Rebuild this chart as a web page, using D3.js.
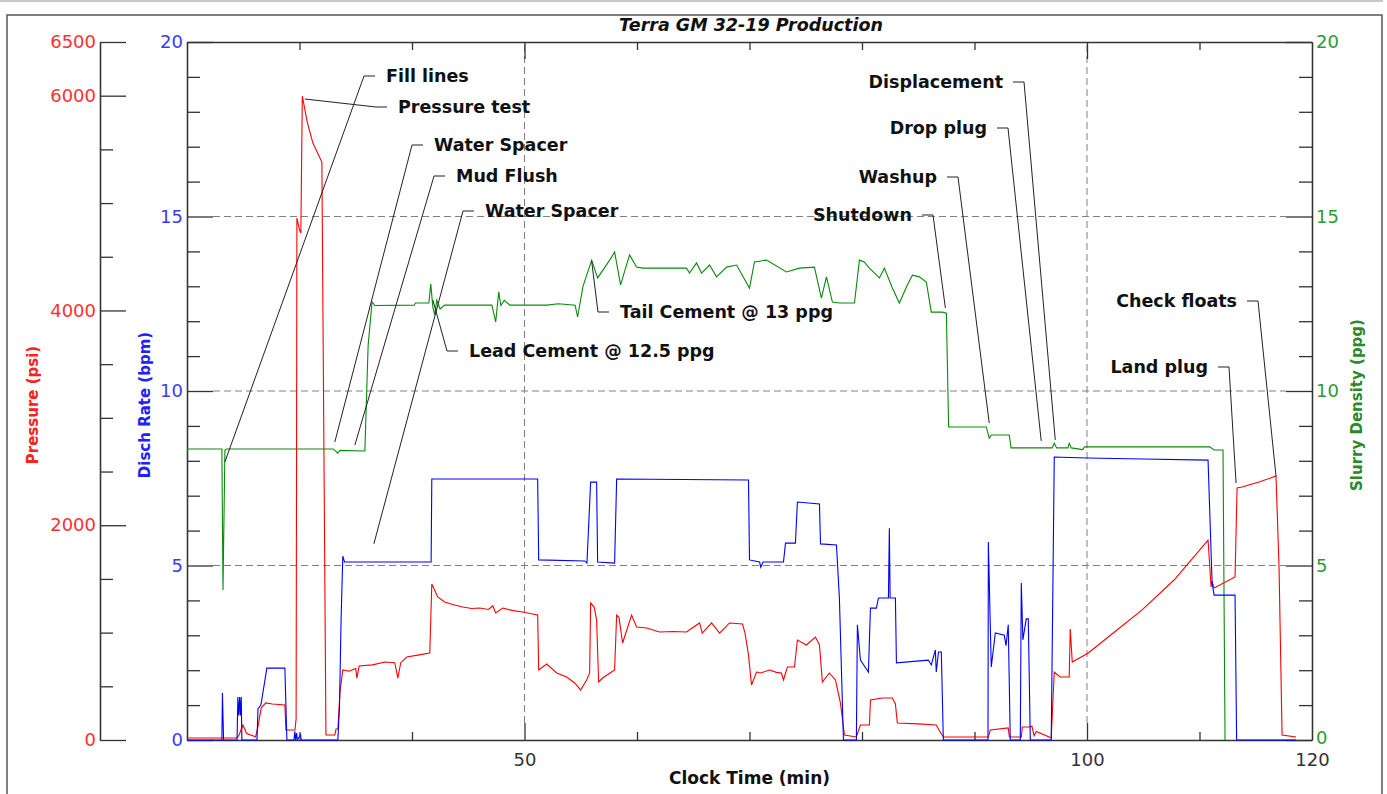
<!DOCTYPE html>
<html><head><meta charset="utf-8">
<script src="https://cdn.jsdelivr.net/npm/d3@7"></script>
<style>body{margin:0;background:#fff}svg{display:block}</style>
</head><body><svg id="c" width="1387" height="794"></svg>
<script>
// ---------- DATA ----------
const chartTitle = "Terra GM 32-19 Production";
const xTitle = "Clock Time (min)";
const pressureTitle = "Pressure (psi)";
const rateTitle = "Disch Rate (bpm)";
const densityTitle = "Slurry Density (ppg)";

const timeMinorTicks = [30, 40, 60, 70, 80, 90, 110];
const timeMajorTicks = [50, 100];
const timeLabels = [50, 100, 120];
const pressureMajorTicks = [0, 2000, 4000, 6000, 6500];
const pressureMinorTicks = [500, 1000, 1500, 2500, 3000, 3500, 4500, 5000, 5500];
const rateMajorTicks = [0, 5, 10, 15, 20];
const rateMinorTicks = [1, 2, 3, 4, 6, 7, 8, 9, 11, 12, 13, 14, 16, 17, 18, 19];
const densityMajorTicks = [0, 5, 10, 15, 20];
const densityMinorTicks = [1, 2, 3, 4, 6, 7, 8, 9, 11, 12, 13, 14, 16, 17, 18, 19];
const gridValues = [5, 10, 15];

// [time (min), pressure (psi)]
const pressureData = [
[20.0,19],[24.4,19],[24.6,40],[24.97,140],[25.3,60],[26.1,30],[26.3,120],[26.6,300],[27.0,345],[27.6,335],[28.7,326],[28.79,93],[29.6,93],[29.7,200],[29.77,4861],[30.0,4750],[30.12,4721],[30.25,5997],[30.7,5750],[31.19,5559],[31.99,5382],[32.15,3000],[32.35,47],[33.14,47],[33.25,102],[33.41,102],[33.6,450],[33.85,652],[34.4,640],[35.0,665],[35.1,577],[35.3,690],[36.5,700],[37.6,726],[38.47,720],[38.74,577],[39.0,720],[39.54,773],[40.5,790],[41.58,810],[41.76,1453],[42.29,1332],[42.9,1285],[43.7,1260],[44.51,1238],[45.3,1225],[46.02,1229],[46.8,1215],[47.18,1250],[47.44,1183],[48.06,1229],[49.0,1205],[49.84,1192],[50.6,1175],[51.17,1164],[51.26,652],[51.97,708],[52.86,624],[53.75,587],[54.46,531],[54.99,466],[55.52,559],[55.79,624],[55.88,1276],[56.2,1238],[56.41,1117],[56.59,540],[56.94,577],[57.74,633],[58.01,652],[58.19,1164],[58.4,1140],[58.72,903],[59.52,1164],[59.96,1052],[60.85,1043],[62.01,1006],[63.2,1010],[64.4,1006],[65.56,1090],[65.8,996],[66.63,1090],[67.34,996],[68.22,1090],[68.8,1085],[69.38,1080],[69.6,996],[69.9,800],[70.18,512],[70.62,633],[70.98,624],[71.78,652],[72.4,630],[72.84,624],[73.02,559],[73.37,680],[74.0,680],[74.26,931],[75.06,885],[75.86,959],[76.22,885],[76.48,540],[77.10,624],[77.64,559],[78.08,345],[78.44,47],[79.5,28],[79.86,140],[80.66,140],[80.75,372],[81.8,391],[82.7,391],[82.97,335],[83.14,158],[85.0,150],[86.61,140],[86.8,100],[87.23,28],[91.23,28],[91.4,93],[93.0,112],[93.1,28],[94.16,28],[94.25,121],[94.96,121],[95.1,130],[95.3,40],[95.5,80],[96.64,28],[96.82,19],[97.09,633],[97.62,587],[98.42,587],[98.51,1034],[98.69,726],[100.11,810],[102.33,996],[104.90,1211],[107.74,1490],[110.76,1862],[111.03,1425],[111.1,1480],[111.3,1415],[113.16,1518],[113.34,2347],[113.78,2356],[115.29,2402],[116.8,2458],[117.07,1611],[117.34,47],[118.58,28]
];

// [time (min), discharge rate (bpm)]
const rateData = [
[20,0],[23.1,0],[23.15,1.35],[23.25,0],[24.45,0],[24.52,1.23],[24.6,0.7],[24.68,1.23],[24.75,0.7],[24.82,1.23],[24.88,0],[26.22,0],[26.31,0.9],[26.57,1.0],[27.1,2.06],[28.7,2.06],[28.88,0],[29.5,0],[29.59,0.25],[29.65,0],[29.75,0.2],[29.8,0],[30.1,0.15],[30.15,0],[33.41,0],[33.55,0.9],[33.7,3.5],[33.85,5.27],[34.0,5.1],[41.7,5.1],[41.76,7.48],[51.17,7.48],[51.26,5.16],[55.35,5.13],[55.55,5.07],[55.88,7.39],[56.41,7.39],[56.5,5.1],[58.01,5.07],[58.19,7.48],[69.91,7.45],[70.0,5.16],[70.9,5.1],[71.0,4.95],[71.2,5.1],[73.02,5.1],[73.2,5.64],[74.08,5.64],[74.26,6.82],[76.22,6.76],[76.31,5.62],[77.73,5.59],[77.99,4.07],[78.35,0],[79.5,0],[79.59,3.3],[79.86,2.29],[80.57,1.95],[80.75,3.78],[81.28,3.78],[81.46,4.07],[82.35,4.07],[82.43,6.07],[82.5,4.07],[82.97,4.07],[83.06,2.21],[85.9,2.29],[86.16,2.15],[86.52,2.58],[86.6,1.95],[86.8,2.52],[87.05,2.52],[87.23,0],[91.2,0],[91.23,5.67],[91.49,2.09],[91.85,3.07],[92.65,3.0],[92.8,2.7],[93.0,3.3],[93.18,0],[94.07,0],[94.16,4.5],[94.3,2.87],[94.6,3.47],[94.78,3.47],[94.96,0],[96.82,0],[97.09,8.11],[100,8.08],[105,8.05],[110.76,8.02],[111.12,4.5],[111.3,4.15],[113.16,4.15],[113.3,0],[118.58,0]
];

// [time (min), slurry density (ppg)]
const densityData = [
[20,8.34],[23.1,8.34],[23.2,4.3],[23.37,8.3],[23.5,8.34],[33.0,8.34],[33.4,8.22],[33.6,8.3],[35.81,8.28],[36.1,11.3],[36.45,12.55],[36.7,12.45],[40.2,12.46],[40.3,12.52],[41.5,12.52],[41.67,13.07],[41.85,12.4],[42.02,12.18],[42.2,12.6],[42.5,12.35],[42.9,12.46],[47.1,12.46],[47.44,11.98],[47.71,12.84],[47.9,12.45],[48.2,12.6],[48.7,12.46],[52.0,12.46],[53.0,12.5],[54.5,12.46],[54.72,12.12],[55.2,13.0],[55.97,13.75],[56.5,13.24],[57.57,13.75],[58.01,13.98],[58.54,13.04],[59.34,13.9],[59.96,13.55],[60.5,13.52],[64.4,13.52],[64.67,13.38],[65.29,13.67],[65.74,13.38],[66.45,13.61],[67.07,13.27],[67.96,13.55],[68.85,13.61],[70.0,12.95],[70.44,13.7],[71.51,13.75],[73.29,13.41],[74.44,13.52],[75.77,13.55],[76.39,12.66],[76.84,13.27],[77.37,12.55],[77.99,12.52],[79.33,12.52],[79.77,13.75],[80.2,13.7],[80.66,13.52],[81.55,13.24],[81.99,13.52],[82.70,12.95],[83.32,12.52],[84.03,13.04],[84.48,13.32],[85.10,13.27],[85.72,13.12],[86.16,12.26],[87.14,12.26],[87.5,12.23],[87.7,8.97],[91.05,8.97],[91.31,8.65],[91.5,8.74],[93.09,8.74],[93.25,8.37],[96.9,8.37],[97.09,8.5],[97.3,8.37],[98.3,8.37],[98.42,8.5],[98.6,8.37],[99.6,8.32],[99.8,8.4],[110.9,8.4],[111.3,8.31],[112.09,8.31],[112.27,0]
];

const annotationText = ["Fill lines","Pressure test","Water Spacer","Mud Flush","Water Spacer","Lead Cement @ 12.5 ppg","Tail Cement @ 13 ppg","Displacement","Drop plug","Washup","Shutdown","Check floats","Land plug"];
const annotationTime = [23.37, 30.48, 33.14, 34.92, 36.61, 41.85, 55.97, 97.18, 95.93, 91.31, 87.41, 116.80, 113.25];
const annotationValue = [7.97, 5969, 8.54, 8.45, 5.62, 12.61, 13.72, 8.60, 8.57, 9.08, 12.38, 7.56, 7.36];
const annotationAxis = ["density","pressure","density","density","rate","density","density","density","density","density","density","density","density"];

// ---------- LAYOUT (positions only) ----------
const annotationLayout = [
  {x:386,y:76,side:"right"},{x:398,y:107,side:"right"},{x:434,y:145,side:"right"},
  {x:456,y:176,side:"right"},{x:485,y:211,side:"right"},{x:469,y:351,side:"right"},
  {x:620,y:312,side:"right"},{x:1003,y:82,side:"left"},{x:987,y:128,side:"left"},
  {x:937,y:177,side:"left"},{x:912,y:215,side:"left"},{x:1237,y:301,side:"left"},
  {x:1208,y:367,side:"left"}
];

const W = 1387, H = 794;
const L = 187, R = 1312, T = 42, B = 740;
const FONT = "'DejaVu Sans', 'Liberation Sans', Arial, sans-serif";
const svg = d3.select("#c");

const x = d3.scaleLinear().domain([20, 120]).range([L, R]);
const yRate = d3.scaleLinear().domain([0, 20]).range([B, T]);
const yDen = d3.scaleLinear().domain([0, 20]).range([B, T]);
const yP = d3.scaleLinear().domain([0, 6500]).range([B, T]);

// frame
svg.append("rect").attr("width", W).attr("height", H).attr("fill", "#fff");
svg.append("line").attr("x1", 0).attr("x2", 1383).attr("y1", 1).attr("y2", 1)
  .attr("stroke", "#c8c8c8").attr("stroke-width", 2);
svg.append("rect").attr("x", 7).attr("y", 15).attr("width", 1375).attr("height", 820)
  .attr("fill", "none").attr("stroke", "#555").attr("stroke-width", 1.5);

// title
svg.append("text").attr("x", 751).attr("y", 31).attr("text-anchor", "middle")
  .attr("font-family", FONT).attr("font-size", 17.5).attr("font-weight", "bold")
  .attr("font-style", "italic").attr("fill", "#111").text(chartTitle);

// gridlines
const dash = "7,4";
svg.append("g").selectAll("line").data(gridValues).join("line")
  .attr("x1", L + 26).attr("x2", R - 26)
  .attr("y1", d => yRate(d)).attr("y2", d => yRate(d))
  .attr("stroke", "#808080").attr("stroke-width", 1).attr("stroke-dasharray", dash);
svg.append("g").selectAll("line").data(timeMajorTicks).join("line")
  .attr("x1", d => x(d)).attr("x2", d => x(d))
  .attr("y1", B - 17).attr("y2", T)
  .attr("stroke", "#808080").attr("stroke-width", 1).attr("stroke-dasharray", dash);

function styleAxis(g, color) {
  g.selectAll("path.domain").attr("stroke", "#333").attr("stroke-width", 1.3);
  g.selectAll(".tick line").attr("stroke", "#333").attr("stroke-width", 1.3);
  g.selectAll(".tick text").attr("font-family", FONT).attr("font-size", 18).attr("fill", color);
}

// pressure axis at x=100
const gP = svg.append("g").attr("transform", "translate(100,0)")
  .call(d3.axisLeft(yP).tickValues(pressureMajorTicks).tickSizeInner(-26).tickSizeOuter(0).tickPadding(4).tickFormat(d3.format("d")));
styleAxis(gP, "#ff3030");
const gPm = svg.append("g").attr("transform", "translate(100,0)")
  .call(d3.axisLeft(yP).tickValues(pressureMinorTicks).tickSizeInner(-13).tickSizeOuter(0).tickFormat(""));
styleAxis(gPm, "#333");

// rate axis at plot left
const gR = svg.append("g").attr("transform", `translate(${L},0)`)
  .call(d3.axisLeft(yRate).tickValues(rateMajorTicks).tickSizeInner(-26).tickSizeOuter(0).tickPadding(4));
styleAxis(gR, "#3a3aff");
const gRm = svg.append("g").attr("transform", `translate(${L},0)`)
  .call(d3.axisLeft(yRate).tickValues(rateMinorTicks).tickSizeInner(-13).tickSizeOuter(0).tickFormat(""));
styleAxis(gRm, "#333");

// density axis at plot right
const gD = svg.append("g").attr("transform", `translate(${R},0)`)
  .call(d3.axisRight(yDen).tickValues(densityMajorTicks).tickSizeInner(-26).tickSizeOuter(0).tickPadding(4));
styleAxis(gD, "#2f9a2f");
const gDm = svg.append("g").attr("transform", `translate(${R},0)`)
  .call(d3.axisRight(yDen).tickValues(densityMinorTicks).tickSizeInner(-13).tickSizeOuter(0).tickFormat(""));
styleAxis(gDm, "#333");
// nudge the density "0" label up a touch so it clears the "120" time label
gD.selectAll(".tick text").filter(d => d === 0).attr("dy", "0.2em");

// bottom axis
const gB = svg.append("g").attr("transform", `translate(0,${B})`)
  .call(d3.axisBottom(x).tickValues(timeMinorTicks).tickSizeInner(-8).tickSizeOuter(0).tickFormat(""));
styleAxis(gB, "#333");
const gB2 = svg.append("g").attr("transform", `translate(0,${B})`)
  .call(d3.axisBottom(x).tickValues(timeMajorTicks).tickSizeInner(-17).tickSizeOuter(0).tickFormat(""));
styleAxis(gB2, "#333");
gB2.select("path.domain").remove();
const gBl = svg.append("g").attr("transform", `translate(0,${B})`)
  .call(d3.axisBottom(x).tickValues(timeLabels).tickSize(0).tickPadding(13));
styleAxis(gBl, "#333");
gBl.select("path.domain").remove();

// top axis
const gT = svg.append("g").attr("transform", `translate(0,${T})`)
  .call(d3.axisTop(x).tickValues(timeMinorTicks).tickSizeInner(-8).tickSizeOuter(0).tickFormat(""));
styleAxis(gT, "#333");
const gT2 = svg.append("g").attr("transform", `translate(0,${T})`)
  .call(d3.axisTop(x).tickValues(timeMajorTicks).tickSizeInner(-17).tickSizeOuter(0).tickFormat(""));
styleAxis(gT2, "#333");
gT2.select("path.domain").remove();

// axis titles
function vTitle(txt, cx, cy, color) {
  svg.append("text").attr("transform", `translate(${cx},${cy}) rotate(-90)`)
    .attr("text-anchor", "middle").attr("dy", "0.36em")
    .attr("font-family", FONT).attr("font-size", 15).attr("font-weight", "bold")
    .attr("fill", color).text(txt);
}
vTitle(pressureTitle, 33, 405, "#ff2020");
vTitle(rateTitle, 145, 405, "#2020ff");
vTitle(densityTitle, 1357, 405, "#2a8a2a");
svg.append("text").attr("x", (L + R) / 2).attr("y", 784).attr("text-anchor", "middle")
  .attr("font-family", FONT).attr("font-size", 17).attr("font-weight", "bold")
  .attr("fill", "#111").text(xTitle);

// series
svg.append("clipPath").attr("id", "plotclip").append("rect")
  .attr("x", L).attr("y", T - 1).attr("width", R - L).attr("height", B - T + 2);
const plot = svg.append("g").attr("clip-path", "url(#plotclip)");
const lineP = d3.line().x(d => x(d[0])).y(d => yP(d[1]));
const lineR = d3.line().x(d => x(d[0])).y(d => yRate(d[1]));
const lineD = d3.line().x(d => x(d[0])).y(d => yDen(d[1]));
plot.append("path").attr("d", lineD(densityData)).attr("fill", "none").attr("stroke", "#0a8a0a").attr("stroke-width", 1.1);
plot.append("path").attr("d", lineP(pressureData)).attr("fill", "none").attr("stroke", "#ff0000").attr("stroke-width", 1.1);
plot.append("path").attr("d", lineR(rateData)).attr("fill", "none").attr("stroke", "#0000ff").attr("stroke-width", 1.1);

// annotations
const ann = svg.append("g");
annotationText.forEach((txt, i) => {
  const lay = annotationLayout[i];
  const ax = annotationAxis[i];
  const tx = x(annotationTime[i]);
  const ty = ax === "pressure" ? yP(annotationValue[i]) : (ax === "rate" ? yRate(annotationValue[i]) : yDen(annotationValue[i]));
  let h1, h2;
  if (lay.side === "right") { h1 = lay.x - 11; h2 = lay.x - 22; }
  else { h1 = lay.x + 10; h2 = lay.x + 21; }
  ann.append("path")
    .attr("d", `M${h1},${lay.y}L${h2},${lay.y}L${tx},${ty}`)
    .attr("fill", "none").attr("stroke", "#222").attr("stroke-width", 1);
  ann.append("text").attr("x", lay.x).attr("y", lay.y).attr("dy", "0.36em")
    .attr("text-anchor", lay.side === "right" ? "start" : "end")
    .attr("font-family", FONT).attr("font-size", 17.5).attr("font-weight", "bold")
    .attr("fill", "#111").text(txt);
});
</script>
</body></html>
